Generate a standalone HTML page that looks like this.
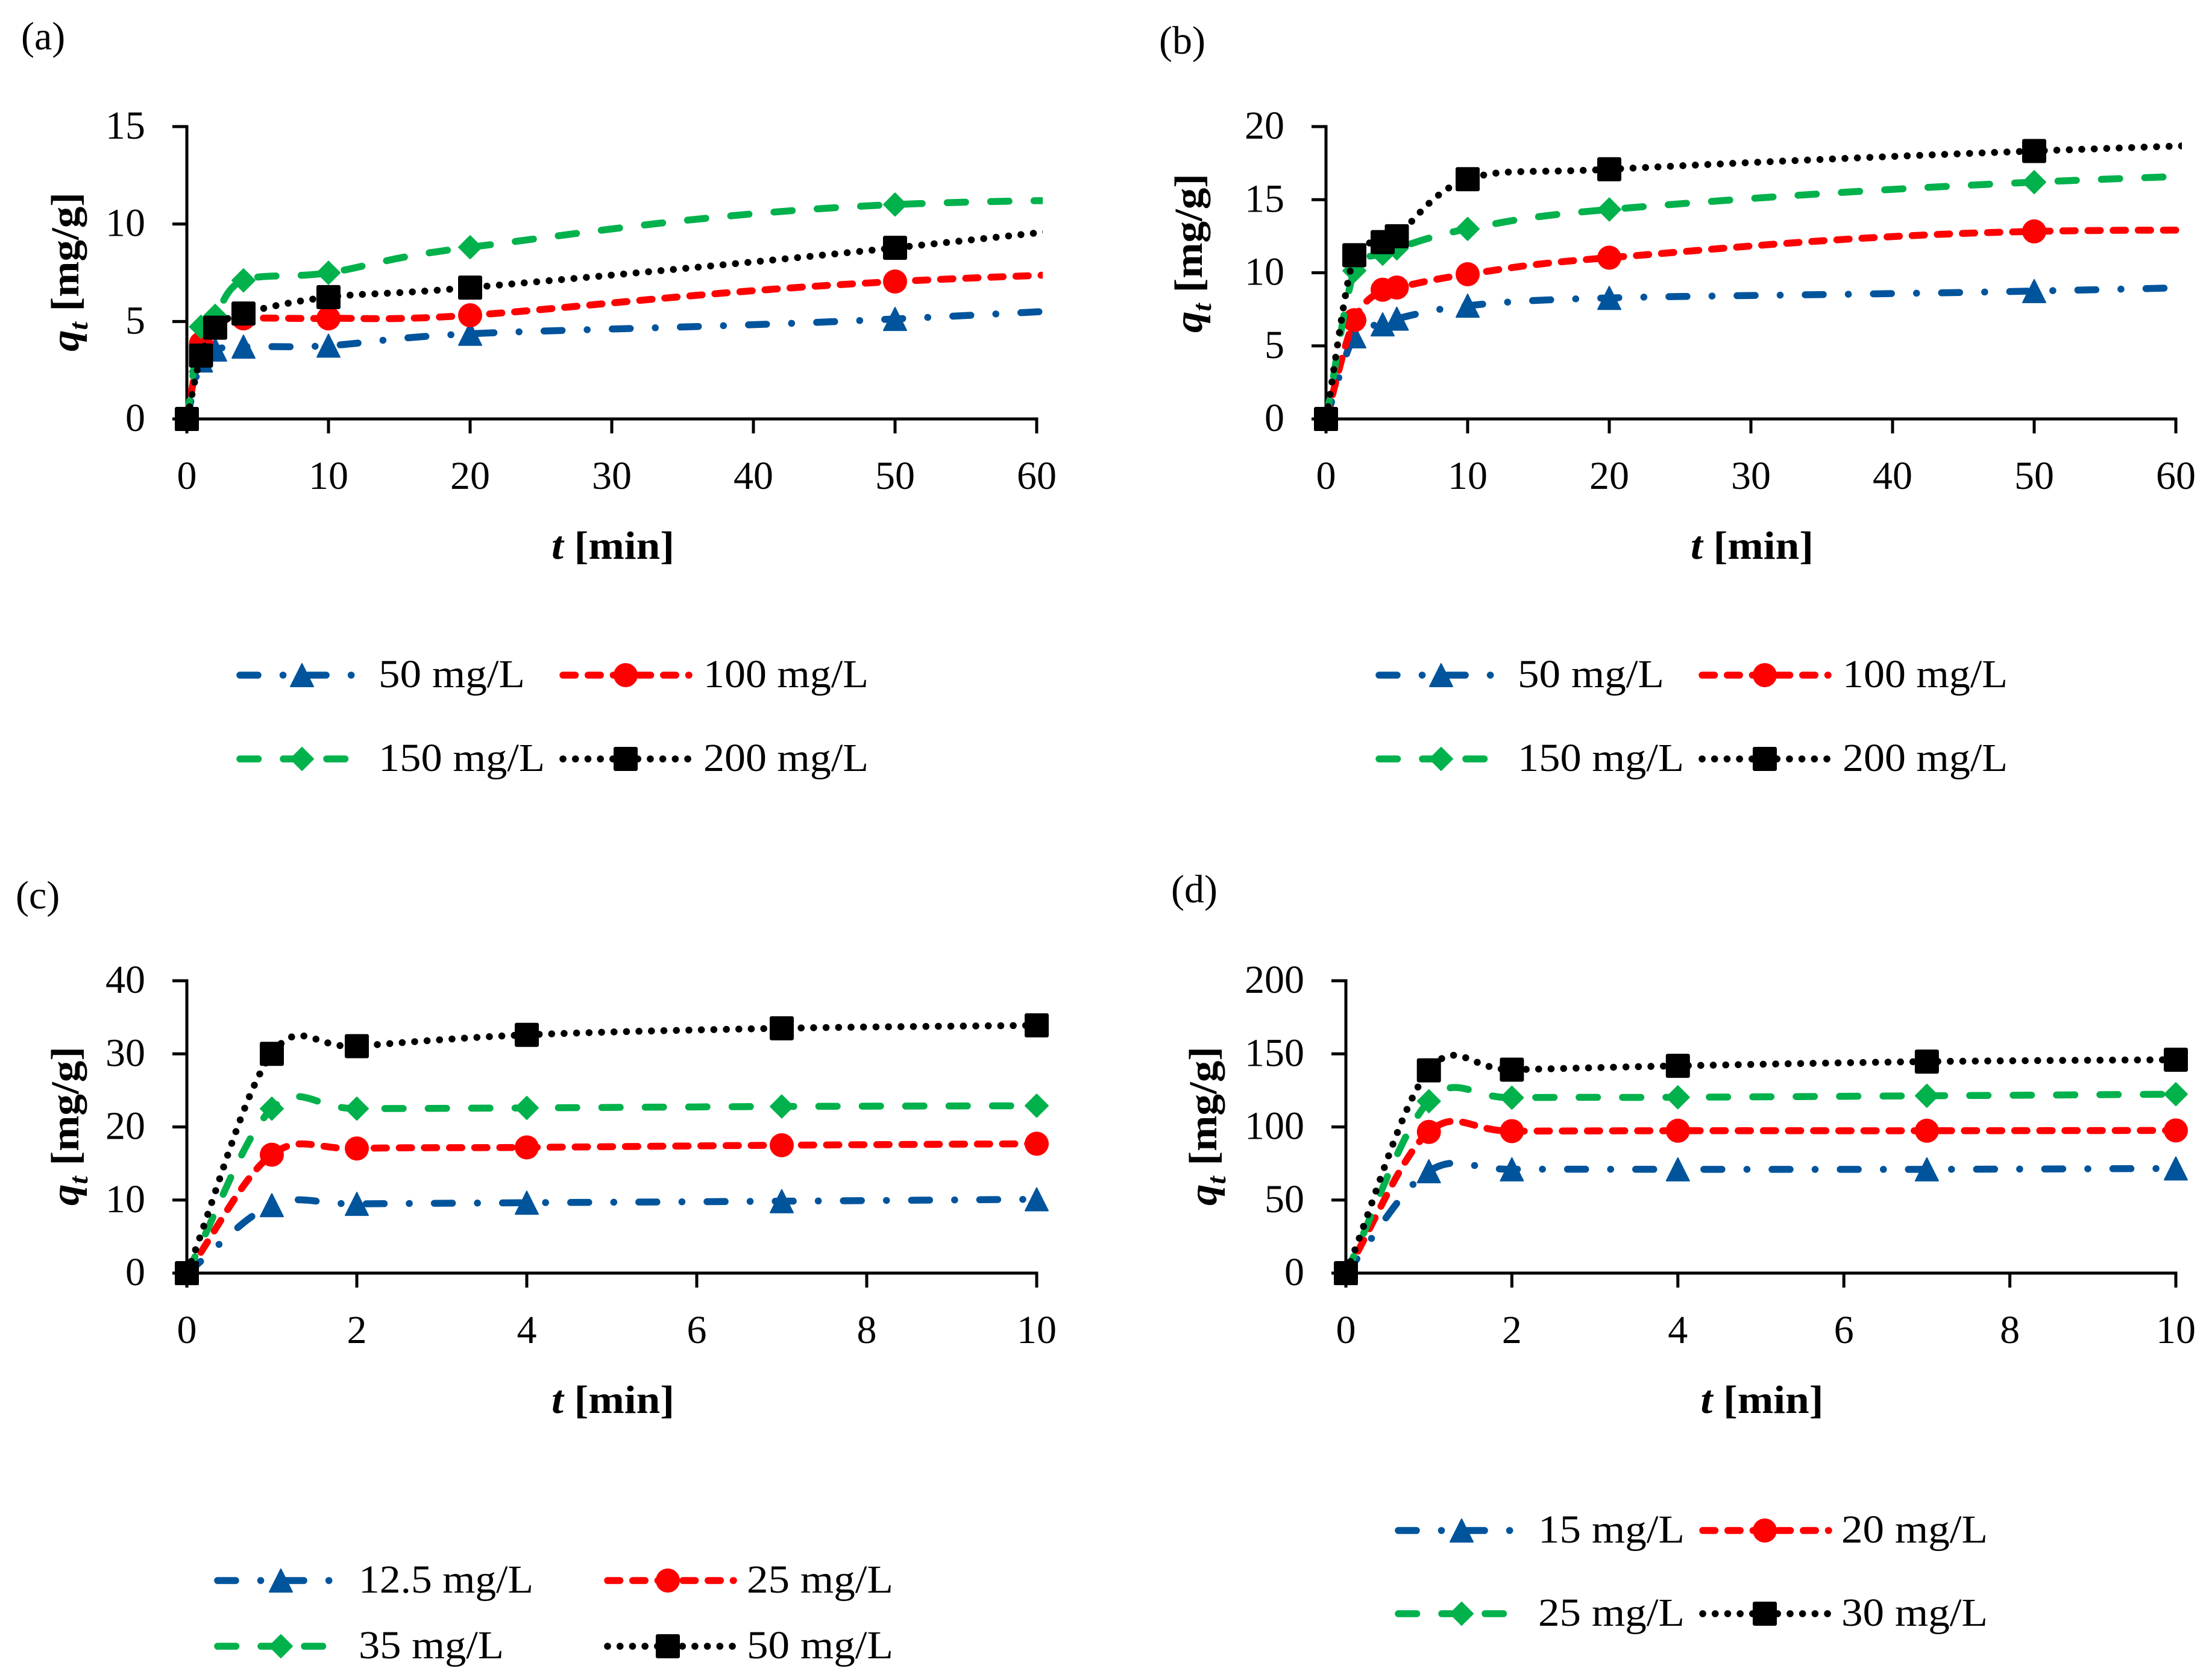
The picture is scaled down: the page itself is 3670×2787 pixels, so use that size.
<!DOCTYPE html>
<html lang="en">
<head>
<meta charset="utf-8">
<title>Adsorption kinetics charts</title>
<style>
html,body{margin:0;padding:0;background:#fff;}
svg{display:block;}
text{font-family:"Liberation Serif",serif;fill:#000;}
</style>
</head>
<body>
<svg id="figure" xmlns="http://www.w3.org/2000/svg" width="3670" height="2787" viewBox="0 0 3670 2787"></svg>
<script>
// ---------- Panel (a) data ----------
const aTimes = [0, 1, 2, 4, 10, 20, 50, 100];
const aBlue  = [0, 3.0, 3.56, 3.71, 3.76, 4.37, 5.13, 7.09];
const aRed   = [0, 3.87, 4.85, 5.16, 5.16, 5.32, 7.05, 8.28];
const aGreen = [0, 4.73, 5.29, 7.11, 7.5, 8.81, 11.0, 11.3];
const aBlack = [0, 3.25, 4.68, 5.41, 6.25, 6.74, 8.78, 12.7];
const aYTicks = [0, 5, 10, 15];
const aXTicks = [0, 10, 20, 30, 40, 50, 60];
const aLegend = ["50 mg/L", "100 mg/L", "150 mg/L", "200 mg/L"];

// ---------- Panel (b) data ----------
const bTimes = [0, 2, 4, 5, 10, 20, 50, 100];
const bBlue  = [0, 5.65, 6.47, 6.86, 7.75, 8.28, 8.75, 9.9];
const bRed   = [0, 6.76, 8.84, 8.99, 9.9, 11.03, 12.83, 12.6];
const bGreen = [0, 10.14, 11.3, 11.67, 13.0, 14.33, 16.2, 17.8];
const bBlack = [0, 11.2, 12.1, 12.5, 16.4, 17.08, 18.33, 19.9];
const bYTicks = [0, 5, 10, 15, 20];
const bXTicks = [0, 10, 20, 30, 40, 50, 60];
const bLegend = ["50 mg/L", "100 mg/L", "150 mg/L", "200 mg/L"];

// ---------- Panel (c) data ----------
const cTimes = [0, 1, 2, 4, 7, 10];
const cBlue  = [0, 9.3, 9.47, 9.63, 9.84, 10.1];
const cRed   = [0, 16.2, 17.05, 17.2, 17.5, 17.7];
const cGreen = [0, 22.5, 22.5, 22.6, 22.8, 22.9];
const cBlack = [0, 30.0, 31.05, 32.6, 33.5, 33.9];
const cYTicks = [0, 10, 20, 30, 40];
const cXTicks = [0, 2, 4, 6, 8, 10];
const cLegend = ["12.5 mg/L", "25 mg/L", "35 mg/L", "50 mg/L"];

// ---------- Panel (d) data ----------
const dTimes = [0, 1, 2, 4, 7, 10];
const dBlue  = [0, 69.7, 71, 71, 71, 71.6];
const dRed   = [0, 96.6, 97.1, 97.4, 97.4, 97.6];
const dGreen = [0, 117.6, 120, 120.3, 121.3, 122.4];
const dBlack = [0, 138.7, 139.2, 141.8, 144.7, 146];
const dYTicks = [0, 50, 100, 150, 200];
const dXTicks = [0, 2, 4, 6, 8, 10];
const dLegend = ["15 mg/L", "20 mg/L", "25 mg/L", "30 mg/L"];

// ---------- Styles ----------
const NS = "http://www.w3.org/2000/svg";
const figure = document.getElementById("figure");
const FONT = 66;
const STYLES = [
  {key: "blue",  color: "#00549C", dash: "30 41.5 0.1 41.5", marker: "triangle"},
  {key: "red",   color: "#FF0000", dash: "20.5 21.2",        marker: "circle"},
  {key: "green", color: "#00B14C", dash: "30.5 41.5",        marker: "diamond"},
  {key: "black", color: "#000000", dash: "0.1 20.6",         marker: "square"}
];

function make(tag, attrs, parent) {
  const node = document.createElementNS(NS, tag);
  for (const k in attrs) node.setAttribute(k, attrs[k]);
  parent.appendChild(node);
  return node;
}

// Smoothing handle: central difference / 6, limited by the adjacent segment length
function handle(from, to, segStart, segEnd) {
  const dx = (to[0] - from[0]) / 6, dy = (to[1] - from[1]) / 6;
  const len = Math.hypot(dx, dy);
  const seg = Math.hypot(segEnd[0] - segStart[0], segEnd[1] - segStart[1]);
  const limit = seg * 0.6;
  const k = len > limit && len > 0 ? limit / len : 1;
  return [dx * k, dy * k];
}

function smoothPath(pts) {
  let d = "M" + pts[0][0] + " " + pts[0][1];
  const n = pts.length;
  for (let i = 0; i < n - 1; i++) {
    const p0 = pts[i], p1 = pts[i + 1];
    let c1, c2;
    if (i === 0) {
      c1 = [p0[0] + (p1[0] - p0[0]) / 3, p0[1] + (p1[1] - p0[1]) / 3];
    } else {
      const h = handle(pts[i - 1], p1, p0, p1);
      c1 = [p0[0] + h[0], p0[1] + h[1]];
    }
    if (i === n - 2) {
      c2 = [p1[0] - (p1[0] - p0[0]) / 3, p1[1] - (p1[1] - p0[1]) / 3];
    } else {
      const h = handle(p0, pts[i + 2], p0, p1);
      c2 = [p1[0] - h[0], p1[1] - h[1]];
    }
    d += " C" + c1[0] + " " + c1[1] + " " + c2[0] + " " + c2[1] + " " + p1[0] + " " + p1[1];
  }
  return d;
}

function drawMarker(kind, cx, cy, color, parent) {
  const r = 19;
  const base = {fill: color, stroke: color, "stroke-width": 2, "stroke-linejoin": "round"};
  let node;
  if (kind === "circle") {
    node = make("circle", {cx: cx, cy: cy, r: 20, fill: color}, parent);
  } else if (kind === "square") {
    node = make("rect", Object.assign({x: cx - r, y: cy - r, width: 2 * r, height: 2 * r, rx: 2}, base), parent);
  } else if (kind === "diamond") {
    const pts = [[cx, cy - r], [cx + r, cy], [cx, cy + r], [cx - r, cy]].join(" ");
    node = make("polygon", Object.assign({points: pts}, base), parent);
  } else {
    const pts = [[cx, cy - r], [cx + r, cy + r], [cx - r, cy + r]].join(" ");
    node = make("polygon", Object.assign({points: pts}, base), parent);
  }
  return node;
}

function drawPanel(cfg) {
  const group = make("g", {}, figure);
  
  

  const xMax = cfg.xTicks[cfg.xTicks.length - 1];
  const yMax = cfg.yTicks[cfg.yTicks.length - 1];
  const xPos = t => cfg.x0 + (t / xMax) * (cfg.x1 - cfg.x0);
  const yPos = v => cfg.y0 - (v / yMax) * (cfg.y0 - cfg.y1);

  const tag = make("text", {x: cfg.tagX, y: cfg.tagY, "font-size": FONT}, group);
  
  
  tag.textContent = "(" + cfg.id + ")";

  // axes
  const yAxis = make("line", {x1: cfg.x0, x2: cfg.x0, y1: cfg.y1 - 2.5, y2: cfg.y0, stroke: "#000", "stroke-width": 5}, group);
  
  
  const xAxis = make("line", {x1: cfg.x0, x2: cfg.x1 + 2.5, y1: cfg.y0, y2: cfg.y0, stroke: "#000", "stroke-width": 5}, group);
  
  

  cfg.yTicks.forEach(v => {
    const y = yPos(v);
    const tick = make("line", {x1: cfg.x0 - 24, x2: cfg.x0, y1: y, y2: y, stroke: "#000", "stroke-width": 5}, group);
    
    
    const label = make("text", {x: cfg.x0 - 69, y: y + 20, "font-size": FONT, "text-anchor": "end"}, group);
    
    
    label.textContent = v;
  });
  cfg.xTicks.forEach(t => {
    const x = xPos(t);
    const tick = make("line", {x1: x, x2: x, y1: cfg.y0, y2: cfg.y0 + 24, stroke: "#000", "stroke-width": 5}, group);
    
    
    const label = make("text", {x: x, y: cfg.y0 + 116, "font-size": FONT, "text-anchor": "middle"}, group);
    
    
    label.textContent = t;
  });

  // axis titles
  const xMid = (cfg.x0 + cfg.x1) / 2;
  const xTitle = make("text", {x: xMid - 100, y: cfg.y0 + 232, "font-size": FONT, "font-weight": "bold", textLength: 204, lengthAdjust: "spacingAndGlyphs"}, group);
  
  
  make("tspan", {"font-style": "italic"}, xTitle).textContent = "t";
  make("tspan", {}, xTitle).textContent = " [min]";

  const yTitle = make("text", {transform: "translate(" + cfg.titleX + " " + cfg.titleY + ") rotate(-90)", x: 0, y: 0, "font-size": FONT, "font-weight": "bold", textLength: 264, lengthAdjust: "spacingAndGlyphs"}, group);
  
  
  make("tspan", {"font-style": "italic"}, yTitle).textContent = "q";
  make("tspan", {"font-style": "italic", "font-size": 44, dy: 15}, yTitle).textContent = "t";
  make("tspan", {dy: -15}, yTitle).textContent = " [mg/g]";

  // clip for series that continue past the axis end
  const clip = make("clipPath", {id: "clip-" + cfg.id}, group);
  make("rect", {x: cfg.x0 - 40, y: cfg.y1 - 40, width: cfg.x1 - cfg.x0 + 50, height: cfg.y0 - cfg.y1 + 80}, clip);

  // series
  cfg.series.forEach((values, idx) => {
    const st = STYLES[idx];
    const seriesGroup = make("g", {}, group);
    
    
    const pts = cfg.times.map((t, i) => [xPos(t), yPos(values[i])]);
    const path = make("path", {d: smoothPath(pts), fill: "none", stroke: st.color, "stroke-width": 11.5, "stroke-linecap": "round", "stroke-linejoin": "round", "stroke-dasharray": st.dash, "clip-path": "url(#clip-" + cfg.id + ")"}, seriesGroup);
    
    
    cfg.times.forEach((t, i) => {
      if (t > xMax) return;
      const m = drawMarker(st.marker, xPos(t), yPos(values[i]), st.color, seriesGroup);
      
      
    });
  });

  // legend
  cfg.legend.forEach((text, idx) => {
    const st = STYLES[idx];
    const pos = cfg.legendPos[idx];
    const entry = make("g", {}, group);
    
    
    const sample = make("line", {x1: pos.lineFrom, x2: pos.lineTo, y1: pos.y, y2: pos.y, stroke: st.color, "stroke-width": 11.5, "stroke-linecap": "round", "stroke-dasharray": st.dash}, entry);
    
    
    const mark = drawMarker(st.marker, pos.markX, pos.y, st.color, entry);
    
    
    const label = make("text", {x: pos.textX, y: pos.y + 20, "font-size": FONT, textLength: pos.textW, lengthAdjust: "spacingAndGlyphs"}, entry);
    
    
    label.textContent = text;
  });
}

function legendAB(dx) {
  return [
    {y: 1120, lineFrom: 398 + dx, lineTo: 584 + dx, markX: 501 + dx, textX: 628 + dx, textW: 243},
    {y: 1120, lineFrom: 934 + dx, lineTo: 1143 + dx, markX: 1038 + dx, textX: 1167 + dx, textW: 274},
    {y: 1259, lineFrom: 398 + dx, lineTo: 573 + dx, markX: 501 + dx, textX: 628 + dx, textW: 276},
    {y: 1259, lineFrom: 934 + dx, lineTo: 1143 + dx, markX: 1038 + dx, textX: 1167 + dx, textW: 274}
  ];
}

drawPanel({id: "a", x0: 310, x1: 1720, y0: 695, y1: 210, tagX: 35, tagY: 82, titleX: 130, titleY: 583,
  times: aTimes, series: [aBlue, aRed, aGreen, aBlack], yTicks: aYTicks, xTicks: aXTicks, legend: aLegend, legendPos: legendAB(0)});

drawPanel({id: "b", x0: 2200, x1: 3610, y0: 695, y1: 210, tagX: 1923, tagY: 89, titleX: 1994, titleY: 552,
  times: bTimes, series: [bBlue, bRed, bGreen, bBlack], yTicks: bYTicks, xTicks: bXTicks, legend: bLegend, legendPos: legendAB(1890)});

drawPanel({id: "c", x0: 310, x1: 1720, y0: 2112, y1: 1627, tagX: 26, tagY: 1507, titleX: 130, titleY: 2000,
  times: cTimes, series: [cBlue, cRed, cGreen, cBlack], yTicks: cYTicks, xTicks: cXTicks, legend: cLegend,
  legendPos: [
    {y: 2622, lineFrom: 361, lineTo: 548, markX: 466, textX: 595, textW: 290},
    {y: 2622, lineFrom: 1008, lineTo: 1217, markX: 1108, textX: 1239, textW: 243},
    {y: 2731, lineFrom: 361, lineTo: 537, markX: 466, textX: 595, textW: 241},
    {y: 2731, lineFrom: 1008, lineTo: 1217, markX: 1108, textX: 1239, textW: 243}
  ]});

drawPanel({id: "d", x0: 2233, x1: 3610, y0: 2112, y1: 1627, tagX: 1943, tagY: 1497, titleX: 2018, titleY: 2000,
  times: dTimes, series: [dBlue, dRed, dGreen, dBlack], yTicks: dYTicks, xTicks: dXTicks, legend: dLegend,
  legendPos: [
    {y: 2539, lineFrom: 2320, lineTo: 2508, markX: 2425, textX: 2552, textW: 243},
    {y: 2539, lineFrom: 2825, lineTo: 3034, markX: 2928, textX: 3055, textW: 243},
    {y: 2677, lineFrom: 2320, lineTo: 2496, markX: 2425, textX: 2552, textW: 243},
    {y: 2677, lineFrom: 2825, lineTo: 3034, markX: 2928, textX: 3055, textW: 243}
  ]});
</script>
</body>
</html>
